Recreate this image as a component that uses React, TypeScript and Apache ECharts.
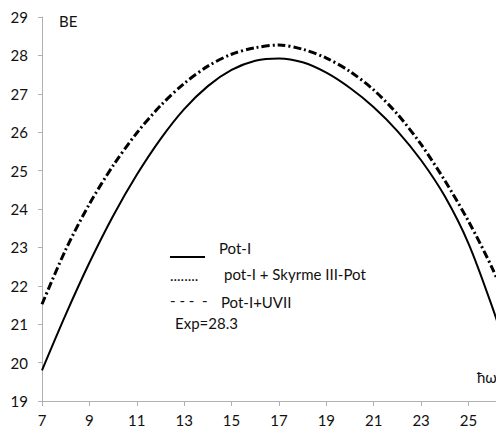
import React, { useEffect, useRef } from "react";
import * as echarts from "echarts";

const hw: number[] = [7, 8, 9, 10, 11, 12, 13, 14, 15, 16, 17, 18, 19, 20, 21, 22, 23, 24, 25, 26, 27];
const potI: number[] = [19.8, 21.25, 22.6, 23.82, 24.89, 25.82, 26.6, 27.2, 27.62, 27.86, 27.92, 27.82, 27.55, 27.15, 26.65, 26.03, 25.27, 24.33, 23.1, 21.45, 19.6];
const potSkyrme: number[] = [21.52, 22.94, 24.13, 25.13, 25.98, 26.69, 27.27, 27.72, 28.03, 28.2, 28.27, 28.16, 27.93, 27.58, 27.1, 26.47, 25.68, 24.74, 23.68, 22.46, 21.0];
const potUVII: number[] = [21.52, 22.94, 24.13, 25.13, 25.98, 26.69, 27.27, 27.72, 28.03, 28.2, 28.27, 28.16, 27.93, 27.58, 27.1, 26.47, 25.68, 24.74, 23.68, 22.46, 21.0];
const xTicks: number[] = [7, 9, 11, 13, 15, 17, 19, 21, 23, 25];
const legendNames: string[] = ["Pot-I", "pot-I + Skyrme III-Pot", "Pot-I+UVII"];
const expText = "Exp=28.3";

const FONT = "Lato, 'Open Sans', sans-serif";

export default function App() {
  const ref = useRef<HTMLDivElement>(null);
  useEffect(() => {
    if (!ref.current) return;
    const chart = echarts.init(ref.current, null, { renderer: "svg" });
    const pair = (arr: number[]) => hw.map((x, i) => [x, arr[i]]);
    chart.setOption({
      animation: false,
      backgroundColor: "#ffffff",
      textStyle: { fontFamily: FONT },
      grid: { left: 42, top: 17, bottom: 38, right: 0 },
      xAxis: {
        type: "value",
        min: 7,
        max: 26.16,
        axisLine: { show: true, lineStyle: { color: "#b0b0b0", width: 1 } },
        axisTick: { show: true, length: 5, customValues: xTicks, lineStyle: { color: "#b0b0b0" } },
        splitLine: { show: false },
        axisLabel: {
          color: "#111",
          fontSize: 15,
          fontFamily: FONT,
          margin: 11,
          customValues: xTicks,
          formatter: (v: number) => (xTicks.indexOf(v) >= 0 ? String(v) : ""),
        },
      },
      yAxis: {
        type: "value",
        min: 19,
        max: 29,
        interval: 1,
        axisLine: { show: true, lineStyle: { color: "#b0b0b0", width: 1 } },
        axisTick: { show: true, length: 4, lineStyle: { color: "#b0b0b0" } },
        splitLine: { show: false },
        axisLabel: { color: "#111", fontSize: 15, fontFamily: FONT, margin: 14 },
      },
      series: [
        {
          name: legendNames[0],
          type: "line",
          data: pair(potI),
          smooth: 0.3,
          showSymbol: false,
          lineStyle: { color: "#000", width: 2, type: "solid" },
        },
        {
          name: legendNames[2],
          type: "line",
          data: pair(potUVII),
          smooth: 0.3,
          showSymbol: false,
          lineStyle: { color: "#000", width: 3, type: [8, 8], dashOffset: 0 },
        },
        {
          name: legendNames[1],
          type: "line",
          data: pair(potSkyrme),
          smooth: 0.3,
          showSymbol: false,
          lineStyle: { color: "#000", width: 3, type: [2, 14], dashOffset: 5 },
        },
      ],
      graphic: [
        { type: "text", left: 59, top: 13, style: { text: "BE", font: `15px ${FONT}`, fill: "#111" } },
        { type: "text", left: 477, top: 369, style: { text: "ħω", font: `15px ${FONT}`, fill: "#111" } },
        { type: "line", shape: { x1: 170, y1: 257, x2: 205, y2: 257 }, style: { stroke: "#000", lineWidth: 2 } },
        { type: "text", x: 219, y: 248, style: { text: legendNames[0], font: `15px ${FONT}`, fill: "#111", verticalAlign: "middle", textVerticalAlign: "middle" } },
        { type: "text", x: 170, y: 275, style: { text: "........", font: `15px ${FONT}`, fill: "#111", verticalAlign: "middle", textVerticalAlign: "middle" } },
        { type: "text", x: 224, y: 274, style: { text: legendNames[1], font: `15px ${FONT}`, fill: "#111", verticalAlign: "middle", textVerticalAlign: "middle" } },
        { type: "text", x: 170, y: 300, style: { text: "- - -  -", font: `15px ${FONT}`, fill: "#111", verticalAlign: "middle", textVerticalAlign: "middle" } },
        { type: "text", x: 221, y: 302, style: { text: legendNames[2], font: `15px ${FONT}`, fill: "#111", verticalAlign: "middle", textVerticalAlign: "middle" } },
        { type: "text", x: 175, y: 323, style: { text: expText, font: `15px ${FONT}`, fill: "#111", verticalAlign: "middle", textVerticalAlign: "middle" } },
      ],
    });
    return () => chart.dispose();
  }, []);
  return (
    <div
      ref={ref}
      style={{ position: "fixed", left: 0, top: 0, width: 496, height: 439, overflow: "hidden", background: "#fff" }}
    />
  );
}
